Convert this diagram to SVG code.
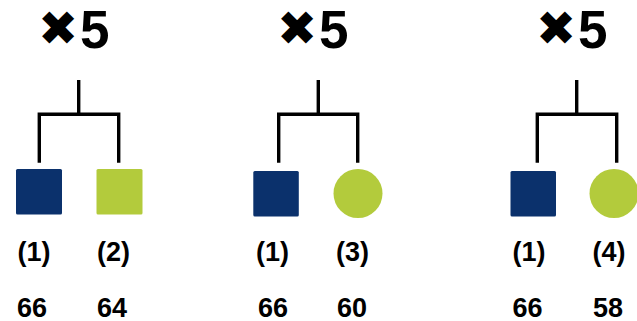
<svg xmlns="http://www.w3.org/2000/svg" width="637" height="321" viewBox="0 0 637 321">
  <style>
    .head { font-family: "Liberation Sans", Arial, sans-serif; font-weight: bold; font-size: 53px; fill: #000; }
    .cross { font-family: "DejaVu Sans", sans-serif; font-weight: normal; font-size: 48px; }
    .lbl { font-family: "Liberation Sans", Arial, sans-serif; font-weight: bold; font-size: 27px; fill: #000; text-anchor: middle; }
    .link { fill: none; stroke: #000; stroke-width: 3.4; stroke-linecap: butt; stroke-linejoin: miter; }
    .navy { fill: #0b316c; }
    .green { fill: #b3cb3c; }
  </style>

  <!-- headings -->
  <g id="heading-1"><text class="head"><tspan class="cross" x="38" y="45">✖</tspan><tspan x="80" y="48">5</tspan></text></g>
  <g id="heading-2"><text class="head"><tspan class="cross" x="277" y="45">✖</tspan><tspan x="319" y="48">5</tspan></text></g>
  <g id="heading-3"><text class="head"><tspan class="cross" x="536" y="45">✖</tspan><tspan x="578" y="48">5</tspan></text></g>

  <!-- connectors -->
  <g id="connectors">
    <path class="link" d="M78.7 80 V114.3 M39.3 162.7 V114.3 H118.7 V162.7"/>
    <path class="link" d="M318.3 80 V114.3 M278.7 162.7 V114.3 H357.7 V162.7"/>
    <path class="link" d="M576.7 80 V114.3 M537.3 162.7 V114.3 H616.7 V162.7"/>
  </g>

  <!-- pair 1 -->
  <g id="node-1a"><rect class="navy" x="16" y="169" width="46" height="45.5" rx="1.5"/></g>
  <g id="node-1b"><rect class="green" x="96.5" y="169" width="46" height="45.5" rx="1.5"/></g>
  <!-- pair 2 -->
  <g id="node-2a"><rect class="navy" x="253.3" y="171" width="45.5" height="45.5" rx="1.5"/></g>
  <g id="node-2b"><circle class="green" cx="358" cy="193.5" r="24.5"/></g>
  <!-- pair 3 -->
  <g id="node-3a"><rect class="navy" x="510.5" y="171" width="45.5" height="45.5" rx="1.5"/></g>
  <g id="node-3b"><circle class="green" cx="614" cy="193.5" r="24.5"/></g>

  <!-- labels -->
  <g id="labels">
    <text class="lbl" x="34" y="261">(1)</text>
    <text class="lbl" x="113.5" y="261">(2)</text>
    <text class="lbl" x="32" y="316.5">66</text>
    <text class="lbl" x="112" y="316.5">64</text>

    <text class="lbl" x="272.5" y="261">(1)</text>
    <text class="lbl" x="352.5" y="261">(3)</text>
    <text class="lbl" x="273" y="316.5">66</text>
    <text class="lbl" x="352" y="316.5">60</text>

    <text class="lbl" x="529" y="261">(1)</text>
    <text class="lbl" x="609" y="261">(4)</text>
    <text class="lbl" x="527.5" y="316.5">66</text>
    <text class="lbl" x="608" y="316.5">58</text>
  </g>
</svg>
